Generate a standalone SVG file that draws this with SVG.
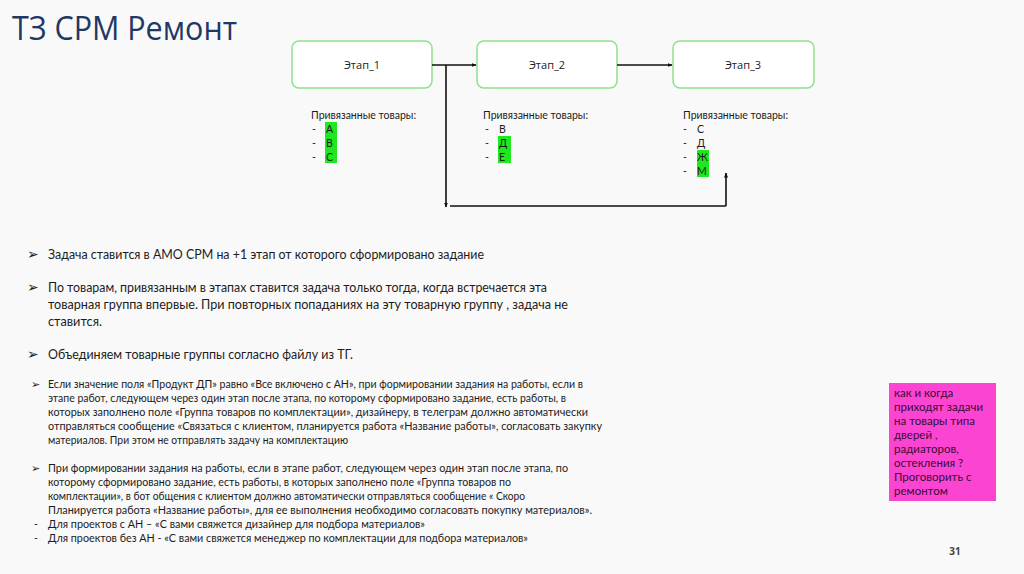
<svg xmlns="http://www.w3.org/2000/svg" width="1024" height="574" viewBox="0 0 1024 574">
<style>
.t{font-family:Lato,"Open Sans","DejaVu Sans",sans-serif;fill:#1c1c1c}
.title{font-family:"Open Sans","DejaVu Sans",sans-serif;font-size:32px;fill:#1f3864}
.node rect{fill:#ffffff;stroke:#8fe08f;stroke-width:1.5}
.nl{font-family:"Open Sans","DejaVu Sans",sans-serif;font-size:11px;fill:#1c1c1c;text-anchor:middle}
.s{font-size:10.5px}
.m{font-size:13.5px}
.b{font-size:10.5px}
.hl{fill:#1ee81e}
.c{stroke:#111;stroke-width:1.6;fill:none}
.bul{font-family:"DejaVu Sans",sans-serif;fill:#1c1c1c}
</style>
<defs>
<marker id="ah" viewBox="0 0 10 10" refX="9" refY="5" markerWidth="5" markerHeight="5" orient="auto" markerUnits="userSpaceOnUse">
<path d="M0,1 L10,5 L0,9 z" fill="#111"/>
</marker>
</defs>
<rect x="0" y="0" width="1024" height="574" fill="#f9f9f9"/>
<text class="title" x="12" y="40" textLength="225" lengthAdjust="spacingAndGlyphs">ТЗ CPM Ремонт</text>

<g id="stage1" class="node"><rect x="292" y="41" width="140" height="47" rx="7"/><text class="nl" x="362" y="69">Этап_1</text></g>
<g id="stage2" class="node"><rect x="477" y="41" width="140" height="47" rx="7"/><text class="nl" x="547" y="69">Этап_2</text></g>
<g id="stage3" class="node"><rect x="673" y="41" width="141" height="47" rx="7"/><text class="nl" x="743" y="69">Этап_3</text></g>

<g id="connectors">
<line class="c" x1="432" y1="65" x2="476" y2="65" marker-end="url(#ah)"/>
<line class="c" x1="617" y1="65" x2="672" y2="65" marker-end="url(#ah)"/>
<line class="c" x1="446" y1="65" x2="446" y2="207" marker-end="url(#ah)"/>
<line class="c" x1="450" y1="206" x2="726" y2="206"/>
<line class="c" x1="726" y1="206" x2="726" y2="173" marker-end="url(#ah)"/>
</g>

<g id="goods1">
<rect class="hl" x="325" y="122" width="12" height="41"/>
<text class="t s" x="311" y="119">Привязанные товары:</text>
<text class="t s" x="312" y="133">-</text><text class="t s" x="326" y="133">А</text>
<text class="t s" x="312" y="147">-</text><text class="t s" x="326" y="147">В</text>
<text class="t s" x="312" y="161">-</text><text class="t s" x="326" y="161">С</text>
</g>
<g id="goods2">
<rect class="hl" x="498" y="136" width="13" height="27"/>
<text class="t s" x="483" y="119">Привязанные товары:</text>
<text class="t s" x="485" y="133">-</text><text class="t s" x="499" y="133">В</text>
<text class="t s" x="485" y="147">-</text><text class="t s" x="499" y="147">Д</text>
<text class="t s" x="485" y="161">-</text><text class="t s" x="499" y="161">Е</text>
</g>
<g id="goods3">
<rect class="hl" x="697" y="150" width="12" height="27"/>
<text class="t s" x="683" y="119">Привязанные товары:</text>
<text class="t s" x="683" y="133">-</text><text class="t s" x="697" y="133">С</text>
<text class="t s" x="683" y="147">-</text><text class="t s" x="697" y="147">Д</text>
<text class="t s" x="683" y="161">-</text><text class="t s" x="697" y="161">Ж</text>
<text class="t s" x="683" y="175">-</text><text class="t s" x="697" y="175">М</text>
</g>

<g id="notes">
<text class="bul" x="27" y="259" font-size="14">➢</text>
<text class="t m" x="48" y="259" textLength="436" lengthAdjust="spacingAndGlyphs">Задача ставится в АМО СРМ на +1 этап от которого сформировано задание</text>
<text class="bul" x="27" y="292" font-size="14">➢</text>
<text class="t m" x="48" y="292" textLength="499" lengthAdjust="spacingAndGlyphs">По товарам, привязанным в этапах ставится задача только тогда, когда встречается эта</text>
<text class="t m" x="48" y="309" textLength="520" lengthAdjust="spacingAndGlyphs">товарная группа впервые. При повторных попаданиях на эту товарную группу , задача не</text>
<text class="t m" x="48" y="326" textLength="54" lengthAdjust="spacingAndGlyphs">ставится.</text>
<text class="bul" x="27" y="359" font-size="14">➢</text>
<text class="t m" x="48" y="359" textLength="305" lengthAdjust="spacingAndGlyphs">Объединяем товарные группы согласно файлу из ТГ.</text>

<text class="bul" x="31" y="388" font-size="11">➢</text>
<text class="t b" x="48" y="388" textLength="535" lengthAdjust="spacingAndGlyphs">Если значение поля «Продукт ДП» равно «Все включено с АН», при формировании задания на работы, если в</text>
<text class="t b" x="48" y="402" textLength="518" lengthAdjust="spacingAndGlyphs">этапе работ, следующем через один этап после этапа, по которому сформировано задание, есть работы, в</text>
<text class="t b" x="48" y="416" textLength="540" lengthAdjust="spacingAndGlyphs">которых заполнено поле «Группа товаров по комплектации», дизайнеру, в телеграм должно автоматически</text>
<text class="t b" x="48" y="430" textLength="554" lengthAdjust="spacingAndGlyphs">отправляться сообщение «Связаться с клиентом, планируется работа «Название работы», согласовать закупку</text>
<text class="t b" x="48" y="444" textLength="300" lengthAdjust="spacingAndGlyphs">материалов. При этом не отправлять задачу на комплектацию</text>

<text class="bul" x="31" y="472" font-size="11">➢</text>
<text class="t b" x="48" y="472" textLength="520" lengthAdjust="spacingAndGlyphs">При формировании задания на работы, если в этапе работ, следующем через один этап после этапа, по</text>
<text class="t b" x="48" y="486" textLength="463" lengthAdjust="spacingAndGlyphs">которому сформировано задание, есть работы, в которых заполнено поле «Группа товаров по</text>
<text class="t b" x="48" y="500" textLength="477" lengthAdjust="spacingAndGlyphs">комплектации», в бот общения с клиентом должно автоматически отправляться сообщение « Скоро</text>
<text class="t b" x="48" y="514" textLength="544" lengthAdjust="spacingAndGlyphs">Планируется работа «Название работы», для ее выполнения необходимо согласовать покупку материалов».</text>
<text class="t b" x="34" y="528">-</text>
<text class="t b" x="48" y="528" textLength="377" lengthAdjust="spacingAndGlyphs">Для проектов с АН – «С вами свяжется дизайнер  для подбора материалов»</text>
<text class="t b" x="34" y="542">-</text>
<text class="t b" x="48" y="542" textLength="480" lengthAdjust="spacingAndGlyphs">Для проектов без АН - «С вами свяжется менеджер по комплектации  для подбора материалов»</text>
</g>

<g id="sticky">
<rect x="889" y="383" width="107" height="118" fill="#fb45d2"/>
<g font-family="Lato,'Open Sans',sans-serif" font-size="11.5" fill="#3a0a35">
<text x="894" y="397">как и когда</text>
<text x="894" y="411">приходят задачи</text>
<text x="894" y="425">на товары типа</text>
<text x="894" y="439">дверей ,</text>
<text x="894" y="453">радиаторов,</text>
<text x="894" y="467">остекления ?</text>
<text x="894" y="481">Проговорить с</text>
<text x="894" y="495">ремонтом</text>
</g>
</g>

<text x="955" y="555" font-family="'Open Sans',sans-serif" font-size="10" font-weight="bold" fill="#444" text-anchor="middle">31</text>
</svg>
